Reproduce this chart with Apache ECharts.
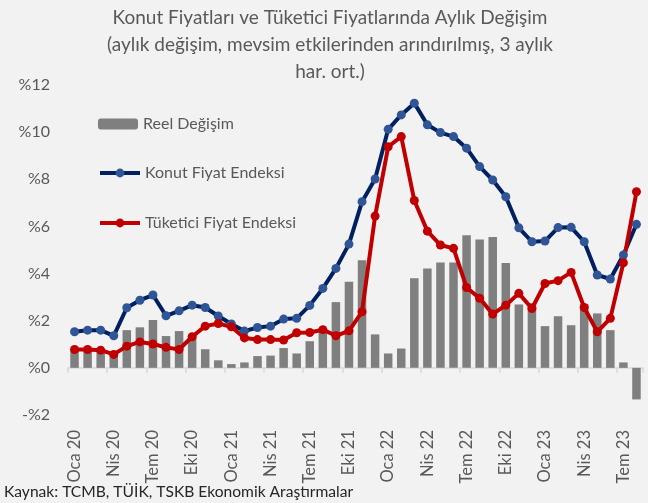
<!DOCTYPE html>
<html>
<head>
<meta charset="utf-8">
<script src="https://cdn.jsdelivr.net/npm/echarts@6/dist/echarts.min.js"></script>
<style>html,body{margin:0;padding:0;background:#f2f2f2;}#c{width:648px;height:503px;}</style>
</head>
<body>
<div id="c"></div>
<script>
const months = ['Oca','Şub','Mar','Nis','May','Haz','Tem','Ağu','Eyl','Eki','Kas','Ara'];
const categories = [];
for (let y = 20; y <= 23; y++) { for (let m = 0; m < 12; m++) { if (y === 23 && m > 7) break; categories.push(months[m] + ' ' + y); } }

const reelDegisim = [0.72,0.75,0.75,0.65,1.60,1.72,2.03,1.35,1.56,1.34,0.79,0.32,
  0.16,0.23,0.50,0.52,0.84,0.61,1.13,1.67,2.79,3.65,4.57,1.42,
  0.61,0.82,3.80,4.22,4.47,4.47,5.63,5.45,5.55,4.45,2.69,2.75,
  1.77,2.19,1.81,2.70,2.31,1.60,0.23,-1.34];
const konutFiyat = [1.53,1.60,1.60,1.36,2.55,2.87,3.09,2.21,2.42,2.66,2.56,2.20,
  1.86,1.56,1.71,1.77,2.07,2.10,2.65,3.37,4.22,5.25,7.05,8.01,
  10.12,10.73,11.23,10.31,9.98,9.81,9.32,8.54,7.97,7.26,5.94,5.35,
  5.38,5.95,5.96,5.35,3.94,3.77,4.79,6.09];
const tuketiciFiyat = [0.78,0.78,0.75,0.57,0.92,1.10,1.01,0.87,0.78,1.32,1.77,1.88,
  1.74,1.27,1.20,1.20,1.18,1.49,1.50,1.62,1.36,1.57,2.38,6.44,
  9.38,9.81,7.10,5.80,5.21,5.07,3.41,2.95,2.28,2.66,3.16,2.52,
  3.58,3.70,4.05,2.56,1.53,2.10,4.46,7.47];
const seriesNames = ['Reel Değişim','Konut Fiyat Endeksi','Tüketici Fiyat Endeksi'];
const titleText = 'Konut Fiyatları ve Tüketici Fiyatlarında Aylık Değişim\n(aylık değişim, mevsim etkilerinden arındırılmış, 3 aylık\nhar. ort.)';
const sourceText = 'Kaynak: TCMB, TÜİK, TSKB Ekonomik Araştırmalar';

const FONT = 'Lato';
const chart = echarts.init(document.getElementById('c'));
const legendBase = {
  orient: 'vertical', left: 98, itemWidth: 40, itemHeight: 11, itemGap: 5, padding: 0,
  lineStyle: { width: 4 },
  textStyle: { fontFamily: FONT, fontSize: 16, color: '#595959', lineHeight: 20 },
  selectedMode: false
};
chart.setOption({
  backgroundColor: '#f2f2f2',
  animation: false,
  title: [
    { text: titleText, left: 330, top: 4, textAlign: 'center', padding: 0,
      textStyle: { fontFamily: FONT, fontSize: 19, fontWeight: 'normal', color: '#595959', lineHeight: 27 } },
    { text: sourceText, left: 4, top: 484, padding: 0,
      textStyle: { fontFamily: FONT, fontSize: 15.6, fontWeight: 'normal', color: '#262626' } }
  ],
  legend: [
    Object.assign({}, legendBase, { top: 114, data: [seriesNames[0]] }),
    Object.assign({}, legendBase, { top: 163, data: [seriesNames[1]] }),
    Object.assign({}, legendBase, { top: 213, data: [seriesNames[2]] })
  ],
  grid: { left: 68, right: 5, top: 85, bottom: 88 },
  xAxis: [
    { type: 'category', data: categories, position: 'bottom',
      axisLine: { show: false, onZero: false }, axisTick: { show: false },
      axisLabel: { interval: 2, rotate: 90, margin: 15, fontFamily: FONT, fontSize: 16.5, color: '#595959' } },
    { type: 'category', data: categories, position: 'top',
      axisLine: { show: true, onZero: true, lineStyle: { color: '#d9d9d9', width: 1.5 } },
      axisTick: { show: true, inside: true, interval: 2, length: 5, lineStyle: { color: '#d9d9d9', width: 1.5 } },
      axisLabel: { show: false } }
  ],
  yAxis: {
    type: 'value', min: -2, max: 12, interval: 2,
    axisLine: { show: false }, axisTick: { show: false }, splitLine: { show: false },
    axisLabel: { margin: 18, fontFamily: FONT, fontSize: 16, color: '#595959',
      formatter: v => (v < 0 ? '-%' + Math.abs(v) : '%' + v) }
  },
  series: [
    { name: seriesNames[0], type: 'bar', data: reelDegisim, barWidth: 8.5,
      itemStyle: { color: '#7f7f7f' } },
    { name: seriesNames[1], type: 'line', data: konutFiyat, symbol: 'circle', symbolSize: 9, showAllSymbol: true,
      lineStyle: { color: '#002060', width: 4 }, itemStyle: { color: '#2f5597' } },
    { name: seriesNames[2], type: 'line', data: tuketiciFiyat, symbol: 'circle', symbolSize: 9, showAllSymbol: true,
      lineStyle: { color: '#c00000', width: 4 }, itemStyle: { color: '#c00000' } }
  ]
});
</script>
</body>
</html>
